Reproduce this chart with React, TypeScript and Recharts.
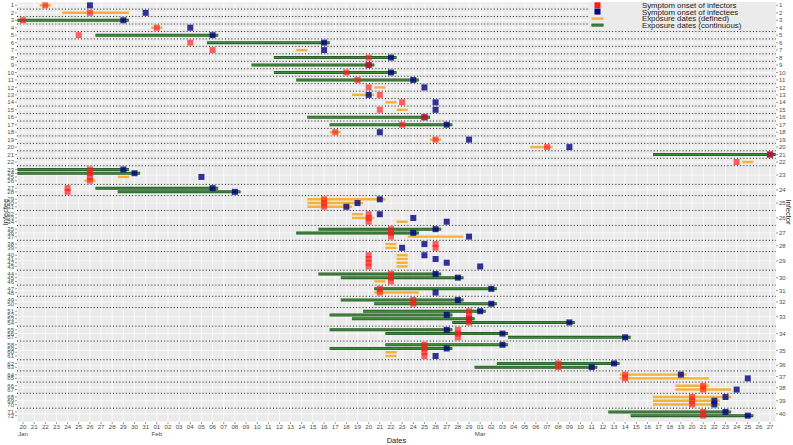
import React from 'react';
import { ComposedChart, Scatter, XAxis, YAxis, CartesianGrid, ReferenceLine, ErrorBar } from 'recharts';

const FONT = '"Liberation Sans", Arial, Helvetica, sans-serif';

// ---------------- data ----------------
// number of infectees per infector (cluster 1..40)
const clusterSizes = [
  1, 1, 1, 1, 1, 1, 1, 1, 1, 1, 1, 1, 1, 1, 1, 1, 1, 1, 1, 1, 1, 1,
  4, 2, 3, 3, 3, 2, 4, 3, 2, 2, 4, 3, 4, 2, 2, 2, 3, 2,
];

// symptom onset of each infector (MM-DD, 2020)
const infectorOnset = [
  '01-22', '01-26', '01-20', '02-01', '01-25', '02-04', '02-06', '02-20', '02-20', '02-18',
  '02-19', '02-20', '02-21', '02-23', '02-21', '02-25', '02-23', '02-17', '02-26', '03-07',
  '03-27', '03-24', '01-26', '01-24', '02-16', '02-20', '02-22', '02-26', '02-20', '02-22',
  '02-21', '02-24', '02-29', '02-28', '02-25', '03-08', '03-14', '03-21', '03-20', '03-21',
];

// infectee labels (left axis)
const infecteeLabels = Array.from({ length: 72 }, (_, i) => String(i + 1));

// exposure type: d = defined, c = continuous
const exposureType = [
  'd', 'd', 'c', 'd', 'c', 'c', 'd', 'c', 'c', 'c', 'c', 'd', 'd', 'd', 'd', 'c', 'c', 'd', 'd', 'd', 'c', 'd',
  'c', 'c', 'd', 'd',
  'c', 'c',
  'd', 'd', 'd',
  'd', 'd', 'd',
  'c', 'c', 'd',
  'd', 'd',
  'd', 'd', 'd', 'd',
  'c', 'c', 'd',
  'c', 'd',
  'c', 'c',
  'c', 'c', 'c', 'c',
  'c', 'c', 'c',
  'c', 'c', 'd', 'd',
  'c', 'c',
  'd', 'd',
  'd', 'd',
  'd', 'd', 'd',
  'c', 'c',
];

const exposureStart = [
  '01-22', '01-24', '01-20', '02-01', '01-27', '02-06', '02-14', '02-12', '02-10', '02-12', '02-14',
  '02-21', '02-19', '02-22', '02-23', '02-15', '02-17', '02-17', '02-26', '03-06', '03-17', '03-25',
  '01-20', '01-20', '01-29', '01-26',
  '01-27', '01-29',
  '02-15', '02-15', '02-15',
  '02-19', '02-19', '02-23',
  '02-16', '02-14', '02-24',
  '02-22', '02-22',
  '02-23', '02-23', '02-23', '02-23',
  '02-16', '02-18', '02-21',
  '02-21', '02-21',
  '02-18', '02-21',
  '02-20', '02-17', '02-19', '02-28',
  '02-17', '02-22', '03-04',
  '02-22', '02-17', '02-22', '02-22',
  '03-03', '03-01',
  '03-14', '03-14',
  '03-19', '03-19',
  '03-17', '03-17', '03-17',
  '03-13', '03-15',
];

const exposureEnd = [
  '01-22', '01-29', '01-29', '02-01', '02-06', '02-16', '02-14', '02-22', '02-20', '02-22', '02-24',
  '02-21', '02-20', '02-22', '02-23', '02-25', '02-27', '02-17', '02-26', '03-07', '03-27', '03-25',
  '01-29', '01-30', '01-29', '01-26',
  '02-06', '02-08',
  '02-21', '02-19', '02-18',
  '02-19', '02-20', '02-23',
  '02-26', '02-24', '02-28',
  '02-22', '02-22',
  '02-23', '02-23', '02-23', '02-23',
  '02-26', '02-28', '02-21',
  '03-02', '02-24',
  '02-28', '03-02',
  '03-01', '02-27', '02-29', '03-09',
  '02-27', '03-03', '03-14',
  '03-03', '02-27', '02-22', '02-22',
  '03-13', '03-11',
  '03-19', '03-21',
  '03-21', '03-23',
  '03-23', '03-22', '03-22',
  '03-23', '03-25',
];

const infecteeOnset: (string | null)[] = [
  '01-26', '01-31', '01-29', '02-04', '02-06', '02-16', '02-16', '02-22', '02-20', '02-22', '02-24',
  '02-25', '02-20', '02-26', '02-26', '02-25', '02-27', '02-21', '02-29', '03-09', '03-27', null,
  '01-29', '01-30', '02-05', null,
  '02-06', '02-08',
  '02-21', '02-19', '02-18',
  '02-21', '02-24', '02-27',
  '02-26', '02-24', '02-29',
  '02-25', '02-23',
  '02-25', '02-26', '02-27', '03-01',
  '02-26', '02-28', null,
  '03-02', '02-26',
  '02-28', '03-02',
  '03-01', '02-27', '02-29', '03-09',
  '02-27', '03-03', '03-14',
  '03-03', '02-27', null, '02-26',
  '03-13', '03-11',
  '03-19', '03-25',
  null, '03-24',
  '03-23', '03-22', '03-22',
  '03-23', '03-25',
];

// ---------------- helpers / layout ----------------
const toDay = (s: string) => {
  const [m, d] = s.split('-').map(Number);
  return m === 1 ? d - 20 : m === 2 ? d + 11 : d + 40;
};

const rowPos: number[] = [];
const rowCluster: number[] = [];
const clusterCenter: number[] = [];
const separators: number[] = [];
let cursor = -1;
clusterSizes.forEach((n, ci) => {
  const start = cursor + 1;
  for (let j = 0; j < n; j++) {
    rowPos.push(start + j * 0.5);
    rowCluster.push(ci);
  }
  const end = start + (n - 1) * 0.5;
  clusterCenter.push((start + end) / 2);
  if (ci < clusterSizes.length - 1) separators.push(end + 0.5);
  cursor = end;
});

const posKey = (v: number) => Math.round(v * 4);
const leftLabelMap = new Map<number, string>();
rowPos.forEach((p, i) => leftLabelMap.set(posKey(p), infecteeLabels[i]));
const rightLabelMap = new Map<number, string>();
clusterCenter.forEach((p, i) => rightLabelMap.set(posKey(p), String(i + 1)));

const segData = (kind: string) =>
  rowPos
    .map((y, i) => ({ i, y }))
    .filter(({ i }) => exposureType[i] === kind)
    .map(({ i, y }) => {
      const s = toDay(exposureStart[i]);
      const e = toDay(exposureEnd[i]);
      return { x: s - 0.5, y, err: [0, e - s + 1] };
    });

const continuousData = segData('c');
const definedData = segData('d');
const infectorData = rowPos.map((y, i) => ({ x: toDay(infectorOnset[rowCluster[i]]), y }));
const infecteeData = rowPos
  .map((y, i) => ({ y, o: infecteeOnset[i] }))
  .filter((r) => r.o !== null)
  .map((r) => ({ x: toDay(r.o as string), y: r.y }));

const dayTicks = Array.from({ length: 68 }, (_, i) => i);
const dayLabel = (d: number) => {
  const v = d < 12 ? 20 + d : d < 41 ? d - 11 : d - 40;
  return v < 10 ? '0' + v : String(v);
};
const monthLabel = (d: number) => (d === 0 ? 'Jan' : d === 12 ? 'Feb' : d === 41 ? 'Mar' : '');

// ---------------- shapes ----------------
const RED = '#ff1a1a';
const BLUE = '#000080';
const ORANGE = '#f3b23a';
const GREEN_DARK = '#245a24';
const GREEN = '#3f8c3a';

const Empty = () => <g />;
const squareShape = (color: string, op: number) => (props: any) => {
  const { cx, cy } = props;
  if (cx == null || cy == null) return <g />;
  return <rect x={cx - 3} y={cy - 3} width={6} height={6} fill={color} fillOpacity={op} />;
};

const XTick = (props: any) => {
  const { x, y, payload } = props;
  const d = payload.value;
  const m = monthLabel(d);
  return (
    <g>
      <text x={x} y={y} dy="0.71em" textAnchor="middle" fontSize={6.2} fill="#4d4d4d" fontFamily={FONT}>
        {dayLabel(d)}
      </text>
      {m && (
        <text x={x} y={y + 6.5} dy="0.71em" textAnchor="middle" fontSize={6.2} fill="#4d4d4d" fontFamily={FONT}>
          {m}
        </text>
      )}
    </g>
  );
};

const Y_DOMAIN: [number, number] = [-0.45, 55.85];

export default function App() {
  return (
    <div style={{ position: 'absolute', left: 0, top: 0, width: 793, height: 445, background: '#fff', fontFamily: FONT }}>
      <ComposedChart width={793} height={445} margin={{ top: 2, right: 0, bottom: 0, left: 0 }}>
        <CartesianGrid yAxisId="R" fill="#EBEBEB" stroke="#ffffff" strokeWidth={0.7} />
        <XAxis
          type="number"
          dataKey="x"
          domain={[-0.54, 67.53]}
          allowDataOverflow
          ticks={dayTicks}
          interval={0}
          height={23}
          tick={<XTick />}
          tickSize={2}
          tickMargin={1}
          axisLine={false}
          tickLine={{ stroke: '#333', strokeWidth: 0.5 }}
        />
        <YAxis
          yAxisId="L"
          type="number"
          dataKey="y"
          domain={Y_DOMAIN}
          allowDataOverflow
          reversed
          ticks={rowPos}
          interval={0}
          width={17}
          tickFormatter={(v: number) => leftLabelMap.get(posKey(v)) ?? ''}
          tick={{ fontSize: 6, fill: '#4d4d4d', fontFamily: FONT }}
          tickSize={2}
          tickMargin={1}
          axisLine={false}
          tickLine={{ stroke: '#333', strokeWidth: 0.5 }}
        />
        <YAxis
          yAxisId="R"
          orientation="right"
          type="number"
          dataKey="y"
          domain={Y_DOMAIN}
          allowDataOverflow
          reversed
          ticks={clusterCenter}
          interval={0}
          width={17}
          tickFormatter={(v: number) => rightLabelMap.get(posKey(v)) ?? ''}
          tick={{ fontSize: 6, fill: '#4d4d4d', fontFamily: FONT }}
          tickSize={2}
          tickMargin={1}
          axisLine={false}
          tickLine={{ stroke: '#333', strokeWidth: 0.5 }}
        />
        {separators.map((s, i) => (
          <ReferenceLine key={'sep' + i} yAxisId="L" y={s} stroke="#000" strokeWidth={0.9} strokeDasharray="1 2.2" />
        ))}
        <Scatter yAxisId="L" data={continuousData} shape={Empty} isAnimationActive={false}>
          <ErrorBar dataKey="err" direction="x" width={0} stroke={GREEN_DARK} strokeWidth={3} isAnimationActive={false} />
          <ErrorBar dataKey="err" direction="x" width={0} stroke={GREEN} strokeWidth={1.4} isAnimationActive={false} />
        </Scatter>
        <Scatter yAxisId="L" data={definedData} shape={Empty} isAnimationActive={false}>
          <ErrorBar dataKey="err" direction="x" width={0} stroke={ORANGE} strokeWidth={2.4} isAnimationActive={false} />
        </Scatter>
        <Scatter yAxisId="L" data={infecteeData} shape={squareShape(BLUE, 0.8)} isAnimationActive={false} />
        <Scatter yAxisId="L" data={infectorData} shape={squareShape(RED, 0.68)} isAnimationActive={false} />
      </ComposedChart>
      <svg
        width={793}
        height={445}
        style={{ position: 'absolute', left: 0, top: 0, pointerEvents: 'none' }}
        fontFamily={FONT}
      >
        <rect x={589} y={2} width={187} height={27} fill="#EBEBEB" />
        <rect x={594.5} y={2.3} width={6} height={6} fill={RED} />
        <rect x={594.5} y={8.6} width={6} height={6} fill={BLUE} />
        <line x1={591.5} x2={603.5} y1={18.6} y2={18.6} stroke={ORANGE} strokeWidth={2.4} />
        <line x1={591.5} x2={603.5} y1={25.1} y2={25.1} stroke={GREEN_DARK} strokeWidth={3} />
        <line x1={591.5} x2={603.5} y1={25.1} y2={25.1} stroke={GREEN} strokeWidth={1.4} />
        <text x={642} y={5.5} fontSize={7.8} fill="#1a1a1a" dominantBaseline="central">Symptom onset of infectors</text>
        <text x={642} y={12} fontSize={7.8} fill="#1a1a1a" dominantBaseline="central">Symptom onset of infectees</text>
        <text x={642} y={18.6} fontSize={7.8} fill="#1a1a1a" dominantBaseline="central">Exposure dates (defined)</text>
        <text x={642} y={25.2} fontSize={7.8} fill="#1a1a1a" dominantBaseline="central">Exposure dates (continuous)</text>
        <text x={5.5} y={212} fontSize={7.5} fill="#1a1a1a" textAnchor="middle" dominantBaseline="central" transform="rotate(-90 5.5 212)">
          Infectee
        </text>
        <text x={788.5} y={212} fontSize={7.5} fill="#1a1a1a" textAnchor="middle" dominantBaseline="central" transform="rotate(90 788.5 212)">
          Infector
        </text>
        <text x={396.5} y={440} fontSize={7.5} fill="#1a1a1a" textAnchor="middle" dominantBaseline="central">
          Dates
        </text>
      </svg>
    </div>
  );
}
